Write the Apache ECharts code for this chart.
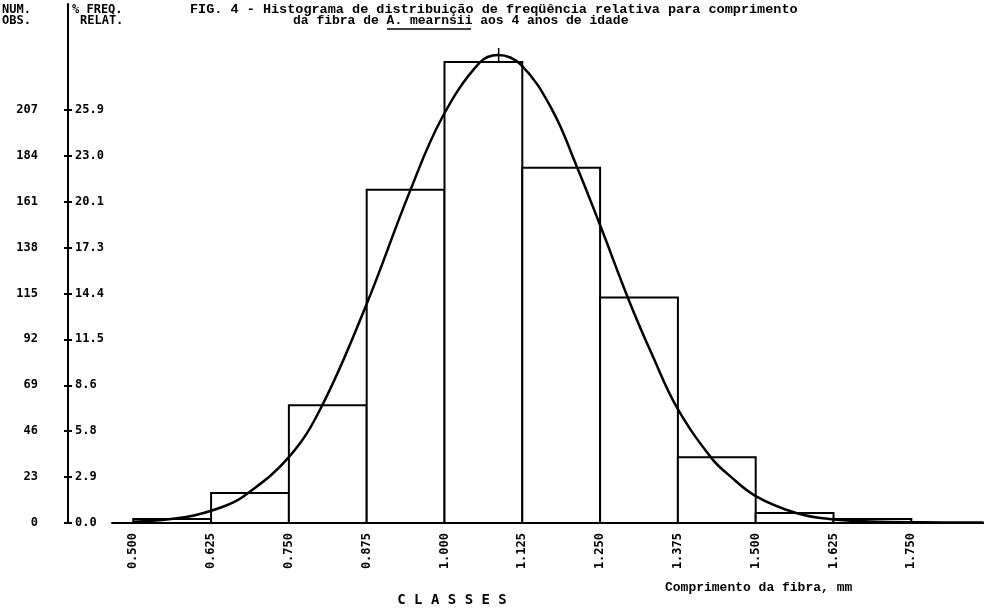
<!DOCTYPE html>
<html>
<head>
<meta charset="utf-8">
<title>Histograma - comprimento da fibra</title>
<script src="https://cdn.jsdelivr.net/npm/echarts@6/dist/echarts.min.js"></script>
<style>
  html, body { margin: 0; padding: 0; background: #fff; }
  #chart { width: 984px; height: 611px; }
</style>
</head>
<body>
<div id="chart"></div>
<script>
// class boundaries (mm) and number of observations per class
const classEdges = [0.500, 0.625, 0.750, 0.875, 1.000, 1.125, 1.250, 1.375, 1.500, 1.625, 1.750];
const classCounts = [2, 15, 59, 167, 231, 178, 113, 33, 5, 2];
const classLabels = ['0.500', '0.625', '0.750', '0.875', '1.000', '1.125', '1.250', '1.375', '1.500', '1.625', '1.750'];

// left scale: counts, right of the axis: % relative frequency
const countTicks = [0, 23, 46, 69, 92, 115, 138, 161, 184, 207];
const pctTicks = ['0.0', '2.9', '5.8', '8.6', '11.5', '14.4', '17.3', '20.1', '23.0', '25.9'];

// fitted curve [length, count]
const curveX = [0.500, 0.585, 0.643, 0.678, 0.750, 0.802, 0.874, 0.943, 0.996, 1.056, 1.086,
  1.123, 1.173, 1.212, 1.249, 1.297, 1.334, 1.374, 1.429, 1.457, 1.500, 1.565, 1.618, 1.700, 1.800, 1.866];
const curveY = [0.6, 3, 8, 13.5, 33, 58, 109, 165, 203, 230.5, 234.5,
  229.5, 207, 179, 150, 111, 84, 57.5, 32.5, 24, 13.5, 5, 2, 0.6, 0.3, 0.2];

// little mark at the mean
const meanX = 1.087;
const meanMark = [231, 238];

const chart = echarts.init(document.getElementById('chart'));

const labelFont = { fontFamily: 'DejaVu Sans Mono', fontWeight: 'bold', fontSize: 12, color: '#000' };
const textFont = 'bold 13px "Liberation Mono"';

function idxOf(list, v) {
  return list.findIndex((x) => Math.abs(x - v) < 1e-6);
}

const option = {
  animation: false,
  backgroundColor: '#fff',
  grid: { left: 112, right: 0, top: 4, bottom: 88 },
  xAxis: {
    type: 'value',
    min: 0.4658,
    max: 1.8668,
    axisLine: { show: true, lineStyle: { color: '#000', width: 2 } },
    axisTick: { show: false },
    splitLine: { show: false },
    axisLabel: Object.assign({}, labelFont, {
      customValues: classEdges,
      rotate: 90,
      margin: 10,
      formatter: (v) => {
        const i = idxOf(classEdges, v);
        return i < 0 ? '' : classLabels[i];
      },
    }),
  },
  yAxis: [
    {
      type: 'value',
      min: 0,
      max: 260,
      position: 'left',
      offset: 44,
      axisLine: { show: true, lineStyle: { color: '#000', width: 2 } },
      axisTick: { show: true, customValues: countTicks, length: 4, lineStyle: { color: '#000', width: 2 } },
      splitLine: { show: false },
      axisLabel: Object.assign({}, labelFont, { customValues: countTicks, margin: 30 }),
    },
    {
      type: 'value',
      min: 0,
      max: 260,
      position: 'left',
      offset: 44,
      axisLine: { show: false },
      axisTick: { show: true, inside: true, customValues: countTicks, length: 4, lineStyle: { color: '#000', width: 2 } },
      splitLine: { show: false },
      axisLabel: Object.assign({}, labelFont, {
        customValues: countTicks,
        inside: true,
        margin: 7,
        formatter: (v) => {
          const i = idxOf(countTicks, v);
          return i < 0 ? '' : pctTicks[i];
        },
      }),
    },
  ],
  series: [
    {
      type: 'custom',
      name: 'classes',
      data: classCounts.map((c, i) => [classEdges[i], classEdges[i + 1], c]),
      encode: { x: [0, 1], y: 2 },
      renderItem: (params, api) => {
        const topLeft = api.coord([api.value(0), api.value(2)]);
        const bottomRight = api.coord([api.value(1), 0]);
        return {
          type: 'rect',
          shape: {
            x: topLeft[0],
            y: topLeft[1],
            width: bottomRight[0] - topLeft[0],
            height: bottomRight[1] - topLeft[1],
          },
          style: { fill: '#fff', stroke: '#000', lineWidth: 2 },
        };
      },
      z: 2,
    },
    {
      type: 'line',
      name: 'curva',
      data: curveX.map((x, i) => [x, curveY[i]]),
      smooth: 0.4,
      showSymbol: false,
      lineStyle: { color: '#000', width: 2.5 },
      z: 3,
    },
    {
      type: 'line',
      name: 'media',
      data: meanMark.map((y) => [meanX, y]),
      showSymbol: false,
      lineStyle: { color: '#000', width: 1.5 },
      z: 3,
    },
  ],
  graphic: [
    { type: 'text', x: 2, y: 10, style: { text: 'NUM.', font: 'bold 12px "DejaVu Sans Mono"', fill: '#000', textVerticalAlign: 'middle', verticalAlign: 'middle' } },
    { type: 'text', x: 2, y: 21, style: { text: 'OBS.', font: 'bold 12px "DejaVu Sans Mono"', fill: '#000', textVerticalAlign: 'middle', verticalAlign: 'middle' } },
    { type: 'text', x: 72, y: 10, style: { text: '% FREQ.', font: 'bold 12px "DejaVu Sans Mono"', fill: '#000', textVerticalAlign: 'middle', verticalAlign: 'middle' } },
    { type: 'text', x: 80, y: 21, style: { text: 'RELAT.', font: 'bold 12px "DejaVu Sans Mono"', fill: '#000', textVerticalAlign: 'middle', verticalAlign: 'middle' } },
    { type: 'text', x: 190, y: 10, style: { text: 'FIG. 4 - Histograma de distribuição de freqüência relativa para comprimento', font: 'bold 13.5px "Liberation Mono"', fill: '#000', textVerticalAlign: 'middle', verticalAlign: 'middle' } },
    { type: 'text', x: 293, y: 21, style: { text: 'da fibra de A. mearnsii aos 4 anos de idade', font: textFont, fill: '#000', textVerticalAlign: 'middle', verticalAlign: 'middle' } },
    { type: 'line', shape: { x1: 387, y1: 29, x2: 471, y2: 29 }, style: { stroke: '#000', lineWidth: 1.5 } },
    { type: 'text', x: 452, y: 600, style: { text: 'C L A S S E S', font: 'bold 14px "DejaVu Sans Mono"', fill: '#000', textAlign: 'center', align: 'center', textVerticalAlign: 'middle', verticalAlign: 'middle' } },
    { type: 'text', x: 665, y: 588, style: { text: 'Comprimento da fibra, mm', font: textFont, fill: '#000', textVerticalAlign: 'middle', verticalAlign: 'middle' } },
  ],
};

chart.setOption(option);
</script>
</body>
</html>
